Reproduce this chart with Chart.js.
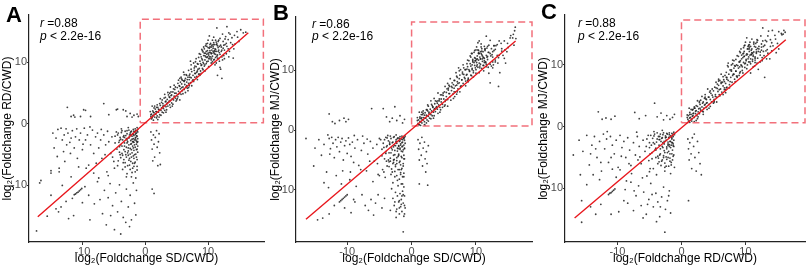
<!DOCTYPE html>
<html>
<head>
<meta charset="utf-8">
<script src="https://cdn.jsdelivr.net/npm/chart.js@4.4.1/dist/chart.umd.min.js"></script>
<style>
html, body { margin: 0; padding: 0; background: #fff; }
#wrap { position: relative; width: 809px; height: 270px; }
canvas { position: absolute; top: 0; }
</style>
</head>
<body>
<div id="wrap">
  <canvas id="chartA" width="268" height="270" style="left:0px"></canvas>
  <canvas id="chartB" width="268" height="270" style="left:268px"></canvas>
  <canvas id="chartC" width="273" height="270" style="left:536px"></canvas>
</div>
<script>
// panel titles / stats
const panelLetters = ['A', 'B', 'C'];
const xTitles = ['log₂(Foldchange SD/CWD)', 'log₂(Foldchange SD/CWD)', 'log₂(Foldchange RD/CWD)'];
const yTitles = ['log₂(Foldchange RD/CWD)', 'log₂(Foldchange MJ/CWD)', 'log₂(Foldchange MJ/CWD)'];
const rValues = ['0.88', '0.86', '0.88'];
const pText = '< 2.2e-16';
const tickValues = [-10, 0, 10];

// fitted lines (end points) and highlight boxes
const fitA = [[-17.1, -15.1], [16.4, 14.8]];
const fitB = [[-16.4, -14.9], [16.15, 14.9]];
const fitC = [[-16.7, -14.8], [16.3, 14.1]];
const boxA = [[-0.8, 0.2], [18.8, 17.0]];
const boxB = [[0.0, 0.7], [18.7, 18.05]];
const boxC = [[0.0, 0.65], [19.3, 17.3]];

// genes, panel A (x = SD/CWD, y = RD/CWD)
const ptsA = [
  [0.9,1.2],[1.0,1.6],[1.1,1.0],[1.2,2.1],[1.3,1.4],[1.4,1.8],[1.5,1.1],[1.6,2.4],[1.7,1.6],[1.8,2.0],[1.9,1.3],[2.0,2.7],[2.1,1.9],[2.2,2.3],[2.3,1.5],[2.4,3.0],[2.5,2.2],[2.6,2.6],[2.7,1.9],[2.8,3.3],[2.9,2.5],[3.0,3.0],[3.1,2.2],[3.2,3.6],[3.3,2.8],[3.4,3.2],[3.5,4.0],[3.6,2.9],[3.7,3.5],[3.8,4.4],[3.9,3.1],[4.0,3.8],[4.1,4.6],[4.2,3.4],[4.3,4.1],[4.4,5.2],[4.5,3.9],[4.6,4.5],[4.7,5.6],[4.8,4.2],[4.9,5.0],[5.0,4.6],[5.1,5.9],[5.2,4.4],[5.3,5.3],[5.4,6.2],[5.5,5.0],[5.6,5.7],[5.7,4.8],[5.8,6.5],[5.9,5.4],[6.0,6.0],[6.1,7.0],[6.2,5.6],[6.3,6.4],[6.4,7.4],[6.5,6.0],[6.6,6.8],[6.7,5.8],[6.8,7.6],[6.9,6.6],[7.0,7.2],[7.1,8.1],[7.2,6.7],[7.3,7.5],[7.4,8.5],[7.5,7.0],[7.6,7.9],[7.7,6.9],[7.8,8.7],[7.9,7.6],[8.0,8.2],[8.1,9.3],[8.2,7.7],[8.3,8.6],[8.4,9.7],[8.5,8.1],[8.6,9.0],[8.7,10.2],[8.8,8.6],[8.9,9.5],[9.0,10.6],[9.1,9.0],[9.2,10.0],[9.3,11.1],[9.4,9.4],[9.5,10.4],[9.6,11.5],[9.7,9.8],[9.8,10.8],[9.9,11.9],[10.0,10.2],[10.1,11.2],[10.2,12.3],[10.3,10.6],[10.4,11.6],[10.5,9.9],[10.6,12.0],[10.7,11.0],[10.8,12.6],[10.9,10.4],[11.0,11.4],[11.1,12.2],[11.2,10.8],[11.3,11.8],[11.4,13.0],[11.5,11.2],[11.6,12.4],[11.8,11.6],[12.0,12.8],[12.2,10.9],[12.4,13.4],[12.6,12.0],[12.8,14.2],[13.0,12.6],[13.3,14.8],[13.6,13.2],[14.0,10.7],[14.2,14.4],[14.6,15.0],[12.2,7.4],[11.4,15.6],[13.0,15.8],[12.0,8.9],[11.5,7.9],
  [9.2,11.7],[9.6,10.9],[10.0,12.4],[10.3,11.9],[10.5,11.4],[10.8,11.8],[11.0,12.9],[11.2,12.1],[11.5,12.7],[11.7,10.6],[9.4,12.2],[9.9,10.9],[10.6,10.7],[11.9,11.3],[10.2,10.9],[8.9,10.9],[9.8,12.6],[10.9,13.2],[11.3,9.9],[12.1,11.8],
  [4.1,5.2],[5.2,6.6],[5.9,7.1],[6.6,7.9],[3.2,4.3],[2.6,3.5],[1.4,2.6],[1.8,1.0],[2.9,1.8],[7.3,8.9],[7.9,9.4],[6.2,8.0],[5.5,7.4],[4.6,6.3],[3.9,5.0],
  [1.3,0.6],[2.7,3.9],[0.8,2.0],[3.6,5.1],[4.9,3.7],[2.2,1.1],[5.7,7.6],[6.4,5.1],[7.7,9.9],[8.3,7.2],[3.1,4.8],[1.9,3.1],[4.4,3.2],[5.3,7.1],[6.9,8.7],[7.4,6.2],[8.8,11.3],[9.5,8.6],[10.4,13.1],[11.7,13.6],[12.5,11.1],[10.1,9.3],[9.0,12.1],[11.1,9.6],[12.9,13.1],[13.4,11.8],[8.1,10.6],[6.1,8.4],[4.0,6.0],[2.4,4.1],[1.1,2.9],[3.3,1.9],[5.0,3.9],[6.8,5.4],[7.2,10.2],[9.7,13.0],[10.9,14.1],[12.3,14.6],[11.9,9.2],[13.8,14.0],[14.9,13.4],[15.6,14.8],[10.0,11.5],[10.6,11.5],[11.4,11.0],[9.1,11.9],[9.6,12.7],[10.3,12.9],[11.8,12.6],[12.4,12.3],[8.6,11.4],[8.4,8.9],[7.9,8.2],[6.3,7.1],[5.8,5.9],[4.7,5.0],[3.8,3.7],[2.1,2.4],[1.6,1.6],[1.0,0.8],[11.2,13.6],[10.7,10.1],[9.3,9.8],[8.9,8.2],[12.7,12.9],[13.2,13.7],[10.5,12.5],[9.8,10.1],[11.0,10.5],[11.6,11.8],[9.0,9.6],[12.2,12.0],[10.2,11.6],[11.3,12.9],[9.5,11.1],[10.8,12.3],[7.0,7.9],[6.6,6.2],[5.5,6.1],[4.2,4.7],[3.5,3.4],[2.8,2.9],[1.7,2.0],[1.2,1.3],
  [1.5,2.9],[2.0,0.7],[2.5,1.4],[3.0,4.2],[3.4,2.3],[3.9,4.3],[4.3,2.9],[4.8,6.0],[5.1,4.1],[5.6,6.8],[6.0,4.9],[6.5,8.0],[6.9,5.9],[7.3,9.6],[7.6,7.2],[8.0,10.1],[8.2,8.4],[8.5,10.8],[8.7,7.9],[9.1,10.4],[9.3,12.5],[9.5,9.6],[9.7,11.8],[9.9,13.1],[10.1,10.6],[10.3,12.5],[10.5,10.4],[10.7,13.6],[10.9,11.6],[11.1,11.8],[11.3,13.3],[11.5,10.7],[11.7,12.0],[11.9,13.9],[12.1,12.5],[12.3,10.4],[12.5,12.8],[12.7,13.8],[12.9,11.4],[13.2,12.2],[13.5,14.6],[13.9,12.9],[14.3,13.0],[14.7,14.1],[15.2,15.3],[16.0,14.9],[10.0,13.6],[10.4,10.9],[10.8,12.9],[11.2,11.3],[11.6,13.4],[9.4,11.5],[9.8,11.3],[10.6,12.8],[11.0,11.9],[8.8,9.8],[8.3,9.8],[7.8,9.1],[7.1,7.6],[6.7,7.2],[6.2,6.9],[5.8,7.3],[5.3,4.8],[4.5,5.7],[3.7,4.7],[3.3,3.7],[2.3,3.3],[1.8,2.7],[1.3,1.9],[0.9,1.5],[4.0,2.7],[5.5,3.9],[7.0,6.2],[8.6,8.1],[9.2,8.8],[11.8,10.2],[12.6,10.6],[13.3,10.9],[14.1,12.2],[10.2,14.3],
  [-12.4,2.7],[-11.8,1.2],[-11.4,1.4],[-11.2,1.1],[-10.3,1.2],[-9.8,2.3],[-9.5,2.2],[-8.7,1.2],[-6.6,3.3],[-5.8,1.5],[-4.6,2.3],[-4.4,2.4],[-3.5,2.3],[-3.1,2.1],[-2.9,1.2],[-2.4,1.7],[-2.1,1.1],[-1.8,1.4],[-1.3,1.6],[-1.1,1.2],
  [-15.0,-7.6],[-14.7,-1.5],[-14.5,-3.9],[-14.0,-5.3],[-13.7,-7.8],[-13.4,-0.7],[-13.2,-2.6],[-12.9,-1.8],[-12.8,-6.1],[-12.5,-3.4],[-12.3,-1.5],[-11.9,-4.8],[-11.8,-2.3],[-11.6,-1.1],[-11.3,-3.9],[-11.1,-2.1],[-10.8,-5.6],[-10.5,-2.6],[-10.3,-1.5],[-10.0,-4.2],[-9.7,-0.7],[-9.5,-2.6],[-9.2,-1.8],[-9.0,-6.7],[-8.7,-3.4],[-8.4,-1.0],[-8.2,-4.8],[-7.9,-2.1],[-7.6,-1.5],[-7.4,-3.9],[-7.1,-2.6],[-6.9,-5.6],[-6.6,-1.8],[-6.3,-3.4],[-6.1,-7.8],[-5.8,-2.9],[-5.5,-4.8],[-5.3,-2.1],[-5.0,-6.1],[-4.8,-3.1],[-8.2,-8.0],[-7.4,-8.8],[-11.8,-8.6],[-13.7,-7.2],[-16.6,-9.2],[-16.8,-9.6],[-15.0,-8.0],[-12.0,-3.0],[-9.9,-3.3],[-6.0,-1.2],[-13.0,-4.5],[-10.9,-0.8],
  [-4.4,-1.8],[-4.2,-3.0],[-4.1,-4.6],[-4.0,-2.2],[-3.9,-5.5],[-3.8,-1.4],[-3.7,-3.6],[-3.6,-2.6],[-3.5,-6.3],[-3.4,-1.9],[-3.4,-4.2],[-3.3,-3.1],[-3.2,-1.2],[-3.1,-5.0],[-3.0,-2.4],[-3.0,-3.8],[-2.9,-1.6],[-2.8,-6.8],[-2.8,-2.9],[-2.7,-4.4],[-2.6,-1.0],[-2.6,-3.4],[-2.5,-2.1],[-2.5,-5.6],[-2.4,-1.5],[-2.4,-4.0],[-2.3,-2.7],[-2.3,-6.1],[-2.2,-1.2],[-2.2,-3.2],[-2.1,-2.0],[-2.1,-4.7],[-2.0,-1.6],[-2.0,-3.6],[-2.0,-7.2],[-1.9,-2.4],[-1.9,-5.2],[-1.9,-0.9],[-1.8,-1.9],[-1.8,-3.0],[-1.8,-4.3],[-1.7,-1.3],[-1.7,-2.6],[-1.7,-6.4],[-1.6,-1.7],[-1.6,-3.8],[-1.6,-0.8],[-1.5,-2.2],[-1.5,-4.9],[-1.5,-1.1],[-1.4,-3.3],[-1.4,-1.5],[-1.4,-2.8],[-1.3,-0.6],[-1.3,-2.0],[-1.3,-5.8],[-1.2,-1.3],[-1.2,-3.6],[-1.2,-2.4],[-3.6,-7.4],[-4.3,-6.0],[-2.9,-8.1],[-2.2,-8.6],[-1.6,-7.8],[-3.8,-0.8],[-2.7,-0.6],[-4.6,-1.3],[-4.8,-2.0],
  [-4.1,-2.7],[-3.7,-1.1],[-3.3,-2.2],[-2.9,-3.1],[-2.6,-2.3],[-2.3,-1.8],[-2.0,-2.9],[-1.8,-1.2],[-1.6,-2.3],[-1.4,-1.9],[-1.3,-3.0],[-1.5,-1.5],[-1.9,-3.9],[-2.2,-5.4],[-2.7,-5.1],[-3.2,-4.5],[-3.9,-3.4],[-4.5,-4.1],[-1.4,-4.2],[-1.2,-0.9],[-1.7,-5.0],[-2.5,-6.7],[-3.4,-5.8],[-2.1,-7.9],[-1.3,-6.9],[-5.2,-5.4],[-4.9,-7.2],[-3.2,-7.0],[-6.4,-5.0],[-5.9,-8.4],[-7.8,-6.4],[-9.4,-7.2],[-10.6,-7.0],[-14.2,-2.3],[-13.9,-0.9],[-12.6,-0.8],[-8.8,-0.5],[-7.0,-0.9],
  [-1.3,-1.1],[-1.5,-2.6],[-1.7,-3.4],[-1.9,-1.7],[-2.1,-2.5],[-2.3,-3.3],[-2.5,-1.8],[-2.7,-3.9],[-2.9,-2.6],[-3.1,-1.9],[-3.3,-3.6],[-3.5,-2.1],[-3.7,-4.8],[-3.9,-2.5],[-4.1,-3.7],[-4.3,-1.5],[-1.2,-4.6],[-1.4,-5.4],[-1.6,-6.2],[-1.8,-5.6],[-2.0,-6.4],[-2.2,-4.2],[-2.4,-4.9],[-2.6,-5.9],[-2.8,-4.7],[-3.0,-5.4],[-3.2,-6.3],[-3.6,-5.1],[-4.0,-5.0],[-4.4,-6.8],[-1.3,-7.5],[-1.8,-6.9],[-2.4,-7.4],[-3.0,-8.6],[-1.5,-8.8],[-1.2,-2.9],[-1.3,-4.1],[-1.9,-2.9],[-2.3,-1.3],[-2.9,-1.1],
  [-17.3,-17.4],[-14.2,-13.8],[-13.8,-14.3],[-13.4,-13.5],[-12.6,-12.6],[-11.4,-14.9],[-10.0,-12.8],[-9.6,-10.2],[-9.0,-11.6],[-8.8,-15.6],[-7.6,-9.4],[-7.2,-12.3],[-6.8,-14.6],[-6.5,-10.8],[-6.2,-16.4],[-5.9,-12.0],[-5.6,-9.7],[-5.2,-13.3],[-4.9,-17.2],[-4.7,-11.2],[-4.4,-14.3],[-4.1,-9.9],[-3.8,-12.6],[-3.5,-15.2],[-3.1,-16.0],[-3.0,-10.6],[-2.7,-13.5],[-2.4,-11.6],[-2.2,-15.6],[-1.9,-9.6],[-1.7,-12.9],[-1.5,-14.8],[-1.4,-10.8],[-3.9,-17.9],[-2.5,-16.7],[-5.5,-14.9],[-8.1,-13.0],[-11.6,-12.1],[-12.2,-15.4],[-15.0,-11.6],[-15.6,-15.0],[-13.2,-10.0],
  [-11.3,-11.5],[-11.1,-11.4],[-10.9,-11.2],[-10.7,-11.1],[-10.5,-10.9],[-10.3,-10.7],[-10.1,-10.5],
  [0.9,-1.3],[1.0,-2.6],[1.1,-4.1],[1.3,-1.8],[1.4,-3.3],[1.5,-5.4],[1.6,-2.2],[1.8,-1.1],[1.9,-3.8],[2.0,-6.8],[2.1,-2.9],[2.2,-1.6],[2.3,-4.7],[1.2,-6.0],[1.1,-10.6],[1.4,-11.3],[2.4,-6.6]
];

// genes, panel B (x = SD/CWD, y = MJ/CWD)
const ptsB = [
  [1.0,1.1],[1.1,1.7],[1.2,0.9],[1.3,2.2],[1.4,1.4],[1.5,1.9],[1.6,1.2],[1.7,2.6],[1.8,1.7],[1.9,2.1],[2.0,1.4],[2.1,2.9],[2.2,2.0],[2.3,2.5],[2.4,1.7],[2.5,3.2],[2.6,2.3],[2.7,2.8],[2.8,2.0],[2.9,3.5],[3.0,2.6],[3.1,3.2],[3.2,2.4],[3.3,3.9],[3.4,3.0],[3.5,3.5],[3.6,4.4],[3.7,3.1],[3.8,3.8],[3.9,4.8],[4.0,3.5],[4.2,4.2],[4.3,5.2],[4.4,3.8],[4.6,4.7],[4.7,5.9],[4.8,4.3],[5.0,5.2],[5.1,6.4],[5.2,4.8],[5.4,5.6],[5.5,6.9],[5.6,5.1],[5.8,6.1],[5.9,7.3],[6.0,5.6],[6.2,6.6],[6.3,7.9],[6.4,6.0],[6.6,7.0],[6.7,8.3],[6.8,6.4],[7.0,7.5],[7.1,8.8],[7.2,6.9],[7.4,7.9],[7.5,9.2],[7.6,7.3],[7.8,8.4],[7.9,9.7],[8.0,7.8],[8.2,8.8],[8.3,10.1],[8.4,8.2],[8.6,9.3],[8.7,10.6],[8.8,8.7],[9.0,9.8],[9.1,11.1],[9.2,9.2],[9.4,10.3],[9.5,11.6],[9.6,9.6],[9.8,10.8],[9.9,12.0],[10.0,10.1],[10.1,11.3],[10.2,12.4],[10.3,10.5],[10.4,11.7],[10.5,9.6],[10.6,12.2],[10.7,11.0],[10.8,12.8],[10.9,10.3],[11.0,11.5],[11.1,13.1],[11.2,10.8],[11.3,12.0],[11.4,13.5],[11.5,11.3],[11.6,12.5],[11.8,11.8],[12.0,13.0],[12.2,11.0],[12.4,13.6],[12.6,12.2],[12.8,14.1],[13.0,11.4],[13.3,14.3],[13.6,12.5],[14.0,13.6],[14.4,14.9],[14.8,13.1],[15.3,15.4],[15.8,16.0],[16.1,17.2],[16.0,16.6],[12.2,7.9],[13.5,7.3],[11.6,15.7],[10.5,14.9],[9.3,12.8],[9.7,11.3],[10.1,10.7],[10.4,12.9],[10.7,11.9],[11.0,12.4],[11.3,11.3],[11.6,10.6],[9.4,10.9],[9.9,11.6],[10.9,13.6],[8.6,10.2],[8.1,9.3],[7.4,8.6],[6.5,7.6],[5.7,6.7],[4.9,5.8],[4.1,4.9],[3.2,4.1],[2.4,3.4],[1.5,2.6],[2.0,0.9],[3.0,1.9],[6.9,9.6],[12.6,10.4],[14.4,12.0],
  [1.4,0.8],[2.6,4.0],[0.9,2.1],[3.5,5.3],[4.8,3.8],[2.3,1.2],[5.6,7.8],[6.5,5.3],[7.6,10.1],[8.4,7.4],[3.0,4.9],[1.8,3.2],[4.5,3.4],[5.2,7.3],[7.0,9.0],[7.5,6.4],[8.9,11.6],[9.6,8.9],[10.3,13.4],[11.8,14.0],[12.6,11.4],[10.0,9.5],[9.1,12.4],[11.2,9.9],[13.0,13.5],[13.5,12.1],[8.0,10.9],[6.0,8.6],[4.1,6.2],[2.5,4.2],[1.2,3.0],[3.4,2.0],[5.1,4.0],[6.7,5.6],[7.3,10.4],[9.8,13.3],[10.8,14.4],[12.2,15.0],[12.0,9.5],[13.9,14.5],[15.0,13.8],[15.7,15.4],[10.1,11.8],[10.7,11.9],[11.5,11.4],[9.2,12.2],[9.7,13.0],[10.4,13.3],[11.9,13.0],[12.5,12.6],[8.7,11.7],[8.5,9.2],[7.8,8.4],[6.2,7.3],[5.9,6.1],[4.6,5.2],[3.9,3.9],[2.0,2.5],[1.7,1.7],[1.1,0.9],[11.3,14.0],[10.6,10.4],[9.4,10.1],[8.8,8.5],[12.8,13.3],[13.1,14.1],[10.5,12.8],[9.9,10.4],[11.1,10.8],[11.7,12.2],[9.0,9.9],[12.3,12.4],[10.2,11.9],[11.4,13.3],[9.5,11.4],[10.9,12.6],[7.1,8.1],[6.6,6.4],[5.4,6.3],[4.3,4.9],[3.6,3.6],[2.7,3.0],[1.6,2.1],[1.3,1.4],[14.6,11.2],[13.7,9.6],[15.9,14.2],
  [1.6,3.0],[2.1,0.8],[2.6,1.5],[3.1,4.3],[3.5,2.4],[4.0,4.5],[4.4,3.0],[4.9,6.2],[5.2,4.2],[5.7,7.0],[6.1,5.0],[6.6,8.3],[7.0,6.0],[7.4,9.9],[7.7,7.4],[8.1,10.4],[8.3,8.6],[8.6,11.1],[8.8,8.1],[9.2,10.7],[9.4,12.8],[9.6,9.9],[9.8,12.1],[10.0,13.4],[10.2,10.9],[10.4,12.8],[10.6,10.7],[10.8,13.9],[11.0,11.9],[11.2,12.1],[11.4,13.6],[11.6,11.0],[11.8,12.3],[12.0,14.2],[12.2,12.8],[12.4,10.7],[12.6,13.1],[12.8,14.1],[13.0,11.7],[13.3,12.5],[13.6,14.9],[14.0,13.2],[14.5,13.4],[14.9,14.5],[15.4,15.8],[16.2,15.3],[10.1,13.9],[10.5,11.2],[10.9,13.2],[11.3,11.6],[11.7,13.7],[9.5,11.8],[9.9,11.6],[10.7,13.1],[11.1,12.2],[8.9,10.1],[8.4,10.1],[7.9,9.4],[7.2,7.8],[6.8,7.4],[6.3,7.1],[5.8,7.5],[5.3,5.0],[4.5,5.9],[3.7,4.9],[3.3,3.8],[2.3,3.4],[1.8,2.8],[1.3,2.0],[0.9,1.6],[4.1,2.8],[5.6,4.0],[7.1,6.4],[8.7,8.3],[9.3,9.1],[11.9,10.5],[12.7,10.9],[13.4,11.2],[14.2,12.5],[10.3,14.6],
  [-12.8,2.7],[-12.3,1.4],[-11.9,1.1],[-11.2,1.6],[-10.5,2.0],[-10.2,1.4],[-9.8,1.8],[-6.2,3.6],[-4.4,3.6],[-3.9,2.2],[-3.4,1.4],[-3.0,2.0],[-2.6,3.9],[-2.3,1.6],[-1.8,2.4],[-1.4,1.2],[-1.1,1.8],[-16.4,-1.4],
  [-14.4,-1.6],[-14.0,-4.2],[-13.6,-2.4],[-13.2,-7.0],[-12.8,-1.4],[-12.6,-3.1],[-12.4,-1.2],[-12.2,-2.2],[-12.0,-4.6],[-11.8,-1.6],[-11.6,-2.8],[-11.4,-1.2],[-11.2,-3.6],[-11.0,-2.0],[-10.8,-1.4],[-10.6,-5.0],[-10.4,-2.6],[-10.2,-1.8],[-10.0,-3.9],[-9.8,-1.3],[-9.6,-2.4],[-9.4,-4.4],[-9.2,-2.0],[-9.0,-5.4],[-8.8,-3.0],[-8.4,-1.6],[-8.2,-5.9],[-7.8,-3.4],[-7.4,-2.2],[-7.0,-6.8],[-6.8,-4.0],[-6.4,-1.9],[-6.0,-3.0],[-5.8,-5.2],[-5.4,-2.4],[-5.2,-7.4],[-13.6,-8.8],[-12.9,-9.6],[-11.7,-7.6],[-10.9,-9.0],[-9.6,-8.3],[-8.6,-9.4],[-15.0,-3.0],[-15.2,-6.0],[-7.6,-1.0],[-5.0,-1.4],
  [-4.8,-1.6],[-4.6,-3.2],[-4.4,-2.2],[-4.2,-4.8],[-4.0,-1.2],[-3.9,-2.8],[-3.8,-6.0],[-3.6,-1.8],[-3.5,-3.8],[-3.4,-2.4],[-3.3,-5.2],[-3.2,-1.4],[-3.1,-3.0],[-3.0,-7.0],[-2.9,-2.0],[-2.8,-4.2],[-2.7,-1.1],[-2.6,-3.4],[-2.5,-2.6],[-2.5,-5.8],[-2.4,-1.6],[-2.3,-4.6],[-2.3,-2.2],[-2.2,-3.0],[-2.1,-6.6],[-2.1,-1.3],[-2.0,-2.6],[-2.0,-4.0],[-1.9,-1.9],[-1.9,-5.4],[-1.8,-1.1],[-1.8,-3.2],[-1.7,-2.3],[-1.7,-7.4],[-1.6,-1.5],[-1.6,-4.4],[-1.5,-2.8],[-1.5,-1.0],[-1.4,-3.6],[-1.4,-2.0],[-1.3,-6.0],[-1.3,-1.3],[-1.2,-2.5],[-1.2,-4.8],[-1.1,-1.7],[-1.1,-3.1],[-1.0,-2.2],[-1.0,-1.0],[-3.7,-0.9],[-4.5,-6.6],[-2.6,-7.8],[-1.9,-8.2],[-4.1,-7.9],[-3.3,-1.0],[-2.4,-0.8],[-1.6,-6.6],[-1.2,-7.2],[-2.8,-5.0],
  [-4.3,-2.9],[-3.8,-1.3],[-3.4,-2.0],[-3.0,-3.3],[-2.7,-2.5],[-2.4,-1.9],[-2.1,-3.1],[-1.9,-1.4],[-1.7,-2.5],[-1.5,-2.1],[-1.3,-3.3],[-1.4,-1.6],[-2.0,-4.2],[-2.3,-5.6],[-2.8,-5.4],[-3.3,-4.7],[-4.0,-3.6],[-4.6,-4.3],[-1.5,-4.6],[-1.1,-1.2],[-1.8,-5.2],[-2.6,-6.9],[-3.5,-6.1],[-2.2,-8.4],[-1.4,-7.8],[-5.3,-5.6],[-5.0,-7.6],[-3.2,-7.4],[-6.5,-5.2],[-6.0,-8.6],[-7.9,-6.6],[-9.5,-7.0],[-10.7,-6.8],[-13.0,-0.8],[-12.7,-4.0],[-8.9,-0.9],[-6.9,-1.5],[-1.2,-9.5],[-1.6,-9.0],[-2.1,-9.3],[-2.6,-12.0],[-1.5,-11.0],[-1.1,-12.6],[-1.9,-13.0],
  [-1.2,-1.4],[-1.4,-2.7],[-1.6,-3.5],[-1.8,-1.8],[-2.0,-2.7],[-2.2,-3.5],[-2.4,-2.0],[-2.6,-4.1],[-2.8,-2.8],[-3.0,-2.1],[-3.2,-3.8],[-3.4,-2.3],[-3.6,-5.0],[-3.8,-2.6],[-4.0,-3.9],[-4.2,-1.6],[-1.1,-4.8],[-1.3,-5.6],[-1.5,-6.4],[-1.7,-5.8],[-1.9,-6.6],[-2.1,-4.4],[-2.3,-5.1],[-2.5,-6.1],[-2.7,-4.9],[-2.9,-5.6],[-3.1,-6.5],[-3.5,-5.3],[-3.9,-5.2],[-4.3,-7.0],[-1.2,-7.8],[-1.7,-7.1],[-2.3,-7.6],[-2.9,-8.8],[-1.4,-9.0],[-1.1,-3.0],[-1.2,-4.2],[-1.8,-3.0],[-2.2,-1.4],[-2.8,-1.2],[-1.3,-10.8],[-1.9,-11.8],[-2.4,-13.6],[-1.6,-12.4],[-1.1,-14.0],
  [-3.1,-9.8],[-2.9,-11.4],[-2.7,-12.6],[-2.5,-10.4],[-2.3,-13.2],[-2.2,-11.0],[-2.0,-12.0],[-1.9,-14.0],[-1.8,-10.6],[-1.7,-12.8],[-1.6,-11.6],[-1.5,-13.6],[-1.4,-10.2],[-1.3,-12.2],[-1.2,-14.4],[-1.1,-11.0],[-1.0,-13.0],[-2.4,-14.6],[-3.3,-13.4],[-7.7,-10.8],[-7.2,-12.6],[-6.7,-13.4],[-6.3,-11.6],[-5.9,-14.2],[-5.6,-12.2],[-5.2,-10.8],[-4.6,-13.0],[-4.2,-11.4],[-1.3,-17.0],[-8.8,-12.0],[-9.4,-13.8],
  [-13.8,-14.7],[-14.6,-15.0],[-12.8,-14.0],[-12.0,-12.6],[-10.4,-13.0],[-9.0,-11.6],
  [-11.2,-12.0],[-11.0,-11.8],[-10.8,-11.6],[-10.6,-11.4],[-10.4,-11.2],[-10.2,-11.0],[-10.0,-10.8],
  [1.0,-1.6],[1.1,-3.2],[1.2,-5.0],[1.3,-2.2],[1.5,-4.2],[1.6,-1.2],[1.7,-6.0],[1.8,-3.0],[2.0,-2.0],[2.1,-4.8],[2.2,-7.0],[2.3,-3.6],[2.4,-5.6],[2.5,-9.2],[1.2,-9.0],[2.6,-2.6]
];

// genes, panel C (x = RD/CWD, y = MJ/CWD)
const ptsC = [
  [1.0,1.2],[1.1,1.8],[1.2,0.9],[1.3,2.3],[1.4,1.5],[1.5,2.0],[1.6,1.2],[1.7,2.7],[1.8,1.8],[1.9,2.2],[2.0,1.5],[2.1,3.0],[2.2,2.1],[2.3,2.6],[2.4,1.8],[2.5,3.3],[2.6,2.4],[2.7,2.9],[2.8,2.1],[2.9,3.6],[3.0,2.7],[3.2,3.2],[3.3,2.5],[3.4,4.0],[3.5,3.0],[3.7,3.6],[3.8,4.5],[3.9,3.2],[4.0,3.9],[4.2,4.8],[4.3,3.6],[4.5,4.4],[4.6,5.4],[4.7,4.0],[4.9,4.8],[5.0,5.8],[5.1,4.4],[5.3,5.2],[5.4,6.3],[5.5,4.8],[5.7,5.7],[5.8,6.7],[5.9,5.2],[6.1,6.1],[6.2,7.2],[6.3,5.6],[6.5,6.6],[6.6,7.6],[6.7,6.0],[6.9,7.0],[7.0,8.0],[7.1,6.4],[7.3,7.5],[7.4,8.5],[7.5,6.8],[7.7,8.0],[7.8,9.0],[7.9,7.2],[8.1,8.5],[8.2,9.5],[8.3,7.7],[8.5,9.0],[8.6,10.0],[8.7,8.2],[8.9,9.5],[9.0,10.5],[9.1,8.7],[9.3,10.0],[9.4,11.0],[9.5,9.1],[9.7,10.4],[9.8,11.4],[9.9,9.6],[10.1,10.9],[10.2,11.8],[10.3,10.0],[10.5,11.3],[10.6,12.2],[10.7,10.5],[10.9,11.7],[11.0,12.6],[11.1,10.9],[11.3,12.1],[11.4,9.8],[11.5,11.3],[11.7,12.5],[11.9,11.1],[12.1,13.0],[12.3,11.6],[12.5,13.4],[12.8,12.2],[13.1,14.0],[13.4,12.5],[13.8,11.0],[14.1,13.6],[14.6,14.8],[15.2,12.6],[15.6,15.1],[16.0,15.6],[12.7,16.0],[14.2,15.6],[11.8,14.1],[13.0,8.0],[10.8,8.7],[9.8,12.2],[10.4,12.6],[10.8,11.0],[11.2,11.6],[11.6,12.9],[9.6,11.8],[10.0,10.3],[11.5,10.4],[12.0,12.2],[10.6,13.3],[9.2,10.7],[8.4,9.8],[7.6,9.2],[6.8,8.3],[6.0,7.5],[5.2,6.4],[4.4,5.6],[3.6,4.6],[2.8,3.9],[2.0,3.0],[1.6,0.9],[2.6,1.6],[8.0,10.8],[7.2,9.9],
  [1.3,0.7],[2.8,4.1],[0.9,1.9],[3.7,5.2],[5.0,3.8],[2.3,1.0],[5.8,7.7],[6.5,5.2],[7.8,10.0],[8.4,7.3],[3.2,4.9],[2.0,3.2],[4.5,3.3],[5.4,7.2],[7.0,8.8],[7.5,6.3],[8.9,11.4],[9.6,8.7],[10.5,13.2],[11.8,13.7],[12.6,11.2],[10.2,9.4],[9.1,12.2],[11.2,9.7],[13.0,13.2],[13.5,11.9],[8.2,10.7],[6.2,8.5],[4.1,6.1],[2.5,4.2],[1.2,3.0],[3.4,2.0],[5.1,4.0],[6.9,5.5],[7.3,10.3],[9.8,13.1],[11.0,14.2],[12.4,14.7],[12.0,9.3],[13.9,14.1],[15.0,13.5],[15.7,14.9],[10.1,11.6],[10.7,11.6],[11.5,11.1],[9.2,12.0],[9.7,12.8],[10.4,13.0],[11.9,12.7],[12.5,12.4],[8.7,11.5],[8.5,9.0],[8.0,8.3],[6.4,7.2],[5.9,6.0],[4.8,5.1],[3.9,3.8],[2.2,2.5],[1.7,1.7],[1.1,0.9],[11.3,13.7],[10.8,10.2],[9.4,9.9],[9.0,8.3],[12.8,13.0],[13.3,13.8],[10.6,12.6],[9.9,10.2],[11.1,10.6],[11.7,11.9],[9.1,9.7],[12.3,12.1],[10.3,11.7],[11.4,13.0],[9.6,11.2],[10.9,12.4],[7.1,8.0],[6.7,6.3],[5.6,6.2],[4.3,4.8],[3.6,3.5],[2.9,3.0],[1.8,2.1],[1.3,1.4],[14.8,12.0],[16.2,15.3],[13.6,15.5],
  [1.5,2.8],[2.0,0.8],[2.5,1.3],[3.0,4.3],[3.4,2.4],[3.9,4.4],[4.3,3.0],[4.8,6.1],[5.1,4.2],[5.6,6.9],[6.0,5.0],[6.5,8.1],[6.9,6.0],[7.3,9.7],[7.6,7.3],[8.0,10.2],[8.2,8.5],[8.5,10.9],[8.7,8.0],[9.1,10.5],[9.3,12.6],[9.5,9.7],[9.7,11.9],[9.9,13.2],[10.1,10.7],[10.3,12.6],[10.5,10.5],[10.7,13.7],[10.9,11.7],[11.1,11.9],[11.3,13.4],[11.5,10.8],[11.7,12.1],[11.9,14.0],[12.1,12.6],[12.3,10.5],[12.5,12.9],[12.7,13.9],[12.9,11.5],[13.2,12.3],[13.5,14.7],[13.9,13.0],[14.3,13.1],[14.7,14.2],[15.2,15.4],[15.9,15.0],[10.0,13.7],[10.4,11.0],[10.8,13.0],[11.2,11.4],[11.6,13.5],[9.4,11.6],[9.8,11.4],[10.6,12.9],[11.0,12.0],[8.8,9.9],[8.3,9.9],[7.8,9.2],[7.1,7.7],[6.7,7.3],[6.2,7.0],[5.8,7.4],[5.3,4.9],[4.5,5.8],[3.7,4.8],[3.3,3.8],[2.3,3.4],[1.8,2.8],[1.3,2.0],[0.9,1.5],[4.0,2.8],[5.5,4.0],[7.0,6.3],[8.6,8.2],[9.2,8.9],[11.8,10.3],[12.6,10.7],[13.3,11.0],[14.1,12.3],[10.2,14.4],
  [-13.0,2.4],[-12.4,1.2],[-11.8,1.4],[-11.0,1.2],[-10.4,1.7],[-7.3,2.3],[-6.6,1.3],[-5.6,1.8],[-4.2,3.8],[-3.8,1.6],[-3.2,2.2],[-2.8,1.1],[-2.3,1.8],[-1.8,1.2],[-1.4,1.5],[-1.1,2.0],
  [-16.9,-4.6],[-15.8,-7.8],[-15.6,-12.0],[-14.8,-9.4],[-15.6,-15.5],
  [-16.0,-2.2],[-15.4,-4.0],[-14.8,-1.4],[-14.4,-6.2],[-14.0,-3.0],[-13.6,-1.6],[-13.2,-5.0],[-12.8,-2.4],[-12.5,-7.2],[-12.2,-1.2],[-12.0,-3.6],[-11.7,-2.0],[-11.4,-5.8],[-11.1,-1.6],[-10.8,-3.0],[-10.5,-4.4],[-10.2,-2.2],[-9.9,-6.6],[-9.6,-1.4],[-9.3,-3.4],[-9.0,-2.4],[-8.7,-5.0],[-8.4,-1.8],[-8.1,-3.8],[-7.8,-7.6],[-7.5,-2.6],[-7.2,-4.6],[-6.9,-1.6],[-6.6,-3.2],[-6.3,-6.0],[-6.0,-2.2],[-5.7,-4.0],[-5.4,-8.0],[-5.2,-1.4],[-13.8,-7.8],[-12.8,-8.6],[-10.2,-8.2],[-8.6,-8.8],[-11.6,-0.8],[-7.0,-0.9],[-14.2,-4.4],[-12.6,-5.8],[-9.4,-4.8],[-6.8,-5.4],
  [-5.4,-2.0],[-5.0,-3.4],[-4.8,-1.4],[-4.6,-5.2],[-4.4,-2.6],[-4.2,-1.2],[-4.0,-3.8],[-3.8,-2.0],[-3.7,-6.0],[-3.6,-1.6],[-3.5,-3.0],[-3.4,-4.6],[-3.3,-1.2],[-3.2,-2.4],[-3.1,-5.6],[-3.0,-1.8],[-2.9,-3.4],[-2.8,-1.0],[-2.7,-2.8],[-2.6,-4.2],[-2.5,-1.5],[-2.4,-6.4],[-2.4,-2.2],[-2.3,-3.6],[-2.2,-1.2],[-2.1,-2.8],[-2.1,-5.0],[-2.0,-1.8],[-1.9,-3.2],[-1.9,-1.0],[-1.8,-2.4],[-1.8,-4.4],[-1.7,-1.5],[-1.6,-3.0],[-1.6,-5.8],[-1.5,-2.0],[-1.5,-1.1],[-1.4,-3.8],[-1.4,-2.6],[-1.3,-1.6],[-1.3,-4.8],[-1.2,-2.2],[-1.2,-3.2],[-1.1,-1.3],[-1.1,-6.6],[-4.3,-0.8],[-3.0,-0.6],[-2.6,-7.2],[-1.7,-7.6],[-4.9,-6.8],[-3.9,-7.8],
  [-4.2,-2.8],[-3.8,-1.0],[-3.4,-2.1],[-3.0,-3.2],[-2.7,-2.4],[-2.4,-1.7],[-2.1,-3.0],[-1.9,-1.3],[-1.7,-2.4],[-1.5,-1.8],[-1.3,-3.1],[-1.4,-1.4],[-2.0,-4.0],[-2.3,-5.3],[-2.8,-5.0],[-3.3,-4.4],[-4.0,-3.5],[-4.6,-4.2],[-1.5,-4.4],[-1.2,-0.9],[-1.8,-5.1],[-2.6,-6.6],[-3.5,-5.7],[-5.1,-5.5],[-5.0,-7.3],[-6.5,-4.9],[-6.1,-8.3],[-7.9,-6.3],[-9.6,-7.0],[-10.8,-6.9],[-13.4,-3.6],[-11.0,-5.0],[-8.2,-6.0],[-7.4,-10.4],[-4.6,-11.0],[-3.3,-13.0],[-2.0,-11.2],[-5.3,-12.6],
  [-1.3,-1.2],[-1.5,-2.6],[-1.7,-3.4],[-1.9,-1.7],[-2.1,-2.5],[-2.3,-3.3],[-2.5,-1.8],[-2.7,-3.9],[-2.9,-2.6],[-3.1,-1.9],[-3.3,-3.6],[-3.5,-2.1],[-3.7,-4.8],[-3.9,-2.5],[-4.1,-3.7],[-4.3,-1.5],[-1.2,-4.6],[-1.4,-5.4],[-1.6,-6.2],[-1.8,-5.6],[-2.0,-6.4],[-2.2,-4.2],[-2.4,-4.9],[-2.6,-5.9],[-2.8,-4.7],[-3.0,-5.4],[-3.2,-6.3],[-3.6,-5.1],[-4.0,-5.0],[-4.4,-6.8],[-5.0,-2.6],[-5.5,-3.2],[-4.7,-3.0],[-4.5,-1.9],[-1.3,-2.8],[-1.9,-2.9],[-2.3,-1.1],[-2.9,-1.3],[-3.4,-1.6],[-4.9,-4.4],
  [-8.8,-10.2],[-8.4,-12.4],[-7.9,-9.0],[-7.5,-13.6],[-7.1,-11.2],[-6.7,-9.6],[-6.3,-12.8],[-5.9,-10.6],[-5.5,-14.2],[-5.1,-11.8],[-4.8,-9.2],[-4.4,-13.0],[-4.0,-10.8],[-3.7,-12.2],[-3.4,-14.6],[-3.1,-11.4],[-2.8,-9.8],[-2.5,-13.4],[-2.2,-12.0],[-1.9,-10.4],[-1.7,-14.0],[-2.6,-17.1],[-6.0,-14.8],[-3.9,-15.4],[-9.8,-13.8],[-11.0,-14.2],[-12.6,-12.6],[-13.4,-14.2],[-14.2,-13.0],[-9.0,-12.0],
  [-11.4,-11.0],[-11.2,-10.8],[-11.0,-10.7],[-10.8,-10.5],[-10.6,-10.3],[-10.4,-10.1],
  [1.0,-2.0],[1.1,-3.6],[1.2,-5.4],[1.3,-2.6],[1.5,-4.4],[1.6,-6.8],[1.7,-1.8],[1.9,-3.2],[2.1,-5.0],[2.3,-7.2],[2.5,-2.4],[2.7,-4.2],[2.9,-6.0],[3.1,-7.8],[1.1,-12.0],[2.0,-1.2]
];

const toXY = arr => arr.map(p => ({ x: p[0], y: p[1] }));
const boxPath = b => toXY([[b[0][0], b[0][1]], [b[1][0], b[0][1]], [b[1][0], b[1][1]], [b[0][0], b[1][1]], [b[0][0], b[0][1]]]);

// letter + r / p annotation
const panelText = {
  id: 'panelText',
  afterDraw(chart, args, opts) {
    const c = chart.ctx;
    const left = chart.chartArea.left;
    c.save();
    c.fillStyle = '#000';
    c.textBaseline = 'alphabetic';
    c.font = 'bold 22px "Liberation Sans", Arial, sans-serif';
    c.fillText(opts.letter, opts.letterX, opts.letterY);
    const tx = left + opts.textDx;
    c.font = 'italic 12px "Liberation Sans", Arial, sans-serif';
    c.fillText('r', tx, opts.rY);
    let w = c.measureText('r').width;
    c.font = '12px "Liberation Sans", Arial, sans-serif';
    c.fillText(' =' + opts.r, tx + w, opts.rY);
    c.font = 'italic 12px "Liberation Sans", Arial, sans-serif';
    c.fillText('p', tx, opts.pY);
    w = c.measureText('p').width;
    c.font = '12px "Liberation Sans", Arial, sans-serif';
    c.fillText(' ' + pText, tx + w, opts.pY);
    c.restore();
  }
};

function axis(min, max, title, isX, fitSize, titlePad) {
  return {
    type: 'linear',
    min: min,
    max: max,
    afterBuildTicks: s => { s.ticks = tickValues.map(v => ({ value: v })); },
    afterFit: s => { if (isX) s.height = fitSize; else s.width = fitSize; },
    border: { display: true, color: '#222', width: 1.2 },
    grid: { drawOnChartArea: false, drawTicks: true, tickLength: isX ? 3 : 2, color: '#333' },
    ticks: {
      color: '#4d4d4d',
      padding: 0,
      maxRotation: 0,
      font: { family: '"Liberation Sans", Arial, sans-serif', size: 11 }
    },
    title: {
      display: true,
      text: title,
      color: '#000',
      font: { family: '"Liberation Sans", Arial, sans-serif', size: 12 },
      padding: isX ? { top: 0, bottom: titlePad } : { top: titlePad, bottom: 0 }
    }
  };
}

function makePanel(id, i, pts, fit, box, p) {
  return new Chart(document.getElementById(id), {
    type: 'scatter',
    data: {
      datasets: [
        { data: toXY(fit), showLine: true, borderColor: '#e8161c', borderWidth: 1.4, pointRadius: 0 },
        { data: boxPath(box), showLine: true, borderColor: '#f2707b', borderWidth: 1.5, borderDash: [7, 4], pointRadius: 0, clip: false },
        { data: toXY(pts), showLine: false, pointRadius: 0.9, pointBorderWidth: 0, pointBackgroundColor: 'rgba(30,30,30,0.85)' }
      ]
    },
    options: {
      responsive: false,
      animation: false,
      devicePixelRatio: 1,
      layout: { padding: { top: p.top, right: p.right, bottom: 0, left: 0 } },
      plugins: {
        legend: { display: false },
        tooltip: { enabled: false },
        panelText: { letter: panelLetters[i], letterX: p.letterX, letterY: p.letterY, textDx: p.textDx, rY: p.rY, pY: p.pY, r: rValues[i] }
      },
      scales: {
        x: axis(p.xmin, p.xmax, xTitles[i], true, 28, 4.5),
        y: axis(p.ymin, p.ymax, yTitles[i], false, p.yw, 0.8)
      }
    },
    plugins: [panelText]
  });
}

makePanel('chartA', 0, ptsA, fitA, boxA, { top: 15, right: 1, yw: 29, xmin: -18.5, xmax: 18.9, ymin: -19.2, ymax: 17.7, letterX: 6, letterY: 22, textDx: 11, rY: 27, pY: 40 });
makePanel('chartB', 1, ptsB, fitB, boxB, { top: 17, right: 2, yw: 28, xmin: -17.95, xmax: 18.7, ymin: -18.7, ymax: 18.9, letterX: 5, letterY: 20, textDx: 16, rY: 28, pY: 40 });
makePanel('chartC', 2, ptsC, fitC, boxC, { top: 15, right: 3, yw: 29, xmin: -18.2, xmax: 19.3, ymin: -18.7, ymax: 18.1, letterX: 5, letterY: 19, textDx: 13, rY: 27, pY: 40 });
</script>
</body>
</html>
